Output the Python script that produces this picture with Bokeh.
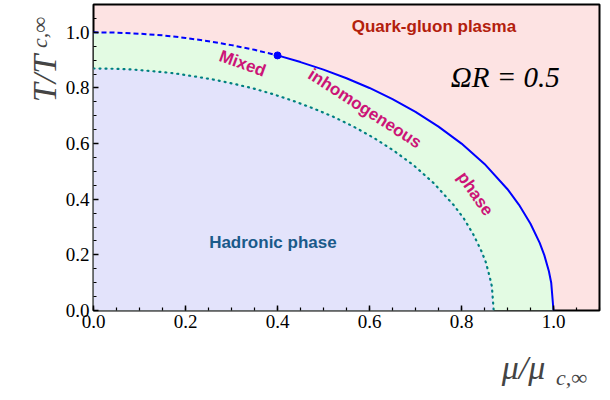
from bokeh.plotting import figure
from bokeh.models import Range1d, Label, FixedTicker, NumeralTickFormatter
from bokeh.core.properties import value
from bokeh.embed import file_html
from bokeh.resources import INLINE

mu_outer = [0, 0.05, 0.1, 0.15, 0.2, 0.25, 0.3, 0.35, 0.4, 0.45, 0.5, 0.55, 0.6, 0.65, 0.7, 0.75,
            0.8, 0.85, 0.9, 0.925, 0.95, 0.97, 0.98, 0.99, 0.995, 1.0]
T_outer = [1.0, 0.999, 0.995, 0.989, 0.98, 0.968, 0.954, 0.937, 0.917, 0.893, 0.866, 0.835, 0.8, 0.760,
           0.714, 0.661, 0.6, 0.527, 0.436, 0.380, 0.312, 0.243, 0.199, 0.141, 0.100, 0.0]
mu_inner = [0, 0.0435, 0.087, 0.1305, 0.174, 0.2175, 0.261, 0.3045, 0.348, 0.3915, 0.435, 0.4785, 0.522,
            0.5655, 0.609, 0.6525, 0.696, 0.7395, 0.783, 0.805, 0.8265, 0.844, 0.853, 0.861, 0.866, 0.87]
T_inner = [0.87, 0.869, 0.866, 0.860, 0.853, 0.842, 0.830, 0.815, 0.798, 0.777, 0.753, 0.726, 0.696, 0.661,
           0.621, 0.575, 0.522, 0.458, 0.379, 0.331, 0.271, 0.211, 0.173, 0.123, 0.087, 0.0]
crit_mu = [0.4]
crit_T = [0.917]
ticks = [0.0, 0.2, 0.4, 0.6, 0.8, 1.0]

p = figure(width=602, height=392, output_backend="svg", toolbar_location=None,
           x_range=Range1d(0, 1.1), y_range=Range1d(0, 1.1),
           min_border_left=90, min_border_right=3, min_border_top=4, min_border_bottom=75)
p.background_fill_color = "#fde3e3"
p.border_fill_color = "white"
p.outline_line_color = "black"
p.outline_line_width = 2
p.grid.visible = False

p.patch([0] + mu_outer, [0] + T_outer, fill_color="#e3fbe3", line_color=None)
p.patch([0] + mu_inner, [0] + T_inner, fill_color="#e3e3fb", line_color=None)
k = mu_outer.index(0.4)
p.line(mu_outer[:k + 1], T_outer[:k + 1], line_color="#0000ff", line_width=2, line_dash="5 3")
p.line(mu_outer[k:], T_outer[k:], line_color="#0000ff", line_width=2)
p.line(mu_inner, T_inner, line_color="#008080", line_width=2.2, line_dash="1 5", line_cap="round")
p.scatter(crit_mu, crit_T, size=7, color="#0000ff")

for ax in (p.xaxis[0], p.yaxis[0]):
    ax.ticker = FixedTicker(ticks=ticks, minor_ticks=[i / 20 for i in range(23)])
    ax.formatter = NumeralTickFormatter(format="0.0")
    ax.major_label_text_font = "Liberation Serif"
    ax.major_label_text_font_size = "19px"
    ax.major_label_text_color = "black"
    ax.major_tick_in = 5
    ax.major_tick_out = 0
    ax.minor_tick_in = 3
    ax.minor_tick_out = 0
    ax.axis_line_color = None
    ax.major_tick_line_width = 1.5
    ax.minor_tick_line_width = 1.2
p.yaxis[0].major_label_standoff = 4
p.xaxis[0].major_label_standoff = 4

sans = value("Liberation Sans")
p.text([0.74], [1.02], text=["Quark-gluon plasma"], text_font=sans, text_font_style="bold",
       text_font_size="17px", text_color="#b3200c", text_align="center", text_baseline="middle")
p.text([0.39], [0.245], text=["Hadronic phase"], text_font=sans, text_font_style="bold",
       text_font_size="17px", text_color="#1a5a8a", text_align="center", text_baseline="middle")
mix_x = [0.324, 0.59, 0.83]
mix_y = [0.888, 0.726, 0.42]
mix_t = ["Mixed", "inhomogeneous", "phase"]
mix_a = [-20, -33, -55]
p.text(mix_x, mix_y, text=mix_t, angle=mix_a, angle_units="deg", text_font=sans, text_font_style="bold",
       text_font_size="17px", text_color="#cc1477", text_align="center", text_baseline="middle")
p.text([0.895], [0.84], text=["ΩR = 0.5"], text_font=value("Liberation Serif"), text_font_style="italic",
       text_font_size="29px", text_color="black", text_align="center", text_baseline="middle")

serif = "Liberation Serif"
p.add_layout(Label(x=19, y=232, x_units="screen", y_units="screen", text="T/T",
                   text_font=serif, text_font_style="italic", text_font_size="34px",
                   angle=90, angle_units="deg", text_align="center", text_baseline="middle"), "left")
p.add_layout(Label(x=39, y=278, x_units="screen", y_units="screen", text="c,∞",
                   text_font=serif, text_font_style="italic", text_font_size="22px",
                   angle=90, angle_units="deg", text_align="center", text_baseline="middle"), "left")
p.add_layout(Label(x=430, y=0, x_units="screen", y_units="screen", text="μ/μ",
                   text_font=serif, text_font_style="italic", text_font_size="34px",
                   text_align="center", text_baseline="middle"), "below")
p.add_layout(Label(x=478, y=15, x_units="screen", y_units="screen", text="c,∞",
                   text_font=serif, text_font_style="italic", text_font_size="22px",
                   text_align="center", text_baseline="middle"), "below")

open("out.html", "w").write(file_html(p, INLINE))
